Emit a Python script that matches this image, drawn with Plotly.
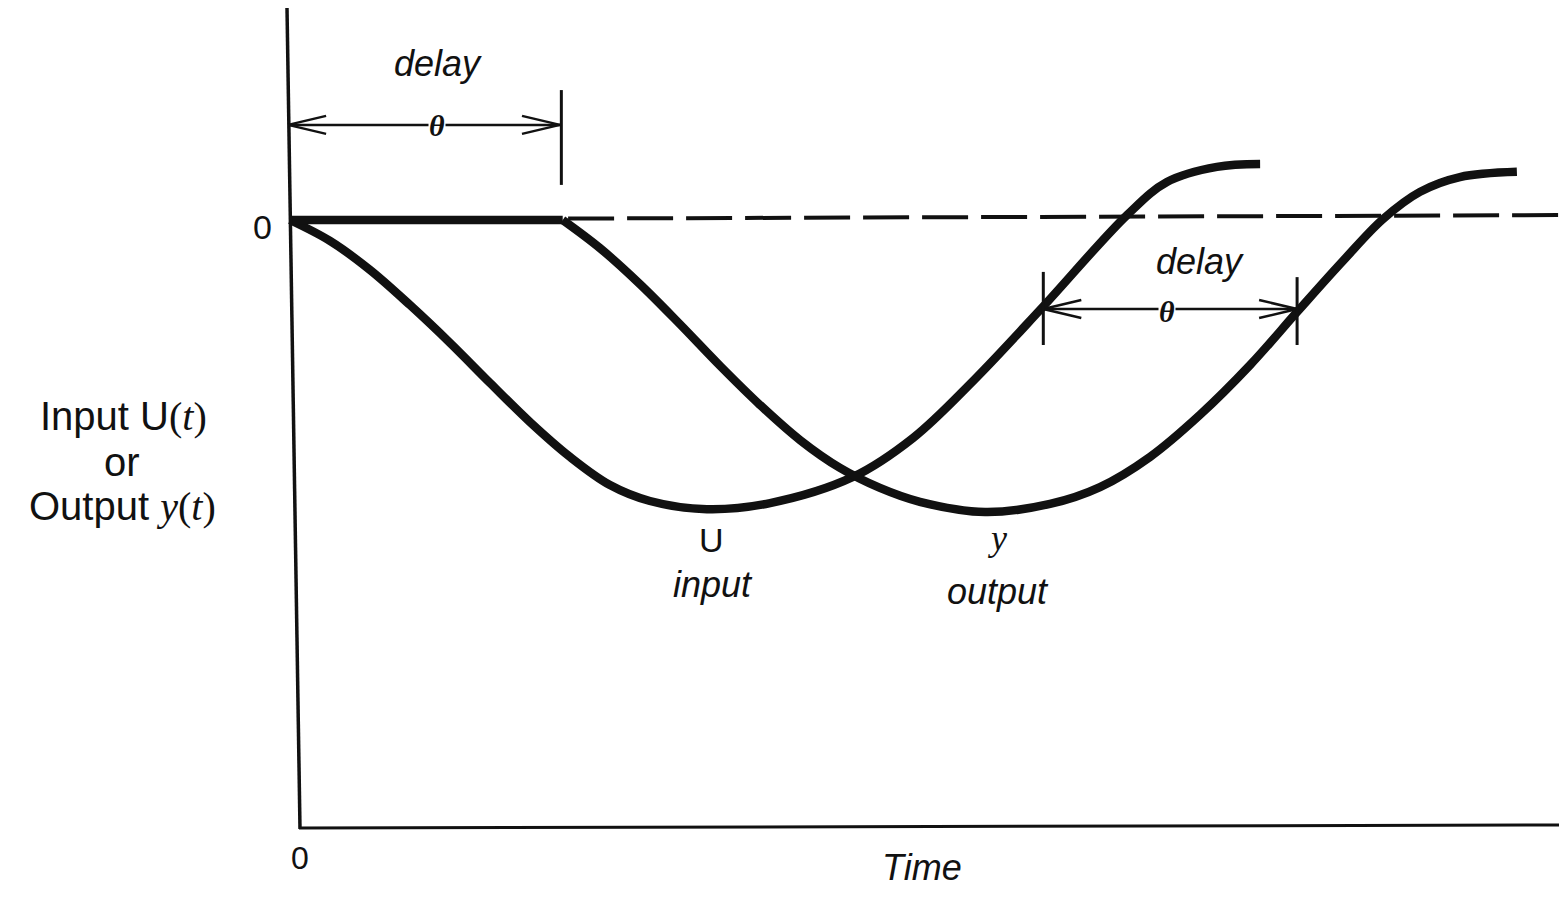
import plotly.graph_objects as go

# ---------------- data ----------------
# time in units of the dead time theta, value relative to the input's lowest point (-1)
u_time = [0.000, 0.148, 0.296, 0.444, 0.593, 0.741, 0.889, 1.037, 1.185, 1.333, 1.544,
          1.778, 2.085, 2.307, 2.530, 2.785, 3.100, 3.248, 3.433, 3.593]
u_value = [0.000, -0.072, -0.172, -0.293, -0.424, -0.562, -0.697, -0.817, -0.914, -0.969, -0.997,
           -0.976, -0.886, -0.752, -0.555, -0.303, 0.017, 0.131, 0.183, 0.193]

y_time = [0.000, 1.010, 1.148, 1.296, 1.444, 1.593, 1.741, 1.889, 2.037, 2.185, 2.333, 2.574,
          2.815, 3.000, 3.185, 3.370, 3.556, 3.730, 3.900, 4.048, 4.185, 4.333, 4.544]
y_value = [0.000, 0.000, -0.097, -0.221, -0.359, -0.503, -0.638, -0.759, -0.855, -0.924, -0.972, -1.007,
           -0.979, -0.921, -0.817, -0.672, -0.500, -0.317, -0.141, 0.003, 0.097, 0.148, 0.166]

theta = 1.0                            # delay shown at the start
delay2_start, delay2_end = 2.79, 3.73  # delay shown between the rising parts

# ---------------- layout constants ----------------
W, H = 1559, 898
X0_PX, PX_PER_T = 290, 270        # pixel of t=0, pixels per time unit
Y0_PX, PX_PER_V = 220, 290        # pixel of value 0, pixels per value unit

def px(x):
    return x / W

def py(y):
    return 1 - y / H

INK = "#111111"
SANS = "Liberation Sans, Arial, sans-serif"
SERIF = "Liberation Serif, Times New Roman, serif"
CURVE_W = 8.5
SMOOTH = 1.0

fig = go.Figure()

# input u(t)
fig.add_trace(go.Scatter(x=u_time, y=u_value, mode="lines",
                         line=dict(color=INK, width=CURVE_W, shape="spline", smoothing=SMOOTH),
                         hoverinfo="skip", showlegend=False))
# output y(t): flat during the delay, then the delayed response
fig.add_trace(go.Scatter(x=y_time[:2], y=y_value[:2], mode="lines",
                         line=dict(color=INK, width=CURVE_W),
                         hoverinfo="skip", showlegend=False))
fig.add_trace(go.Scatter(x=y_time[1:], y=y_value[1:], mode="lines",
                         line=dict(color=INK, width=CURVE_W, shape="spline", smoothing=SMOOTH),
                         hoverinfo="skip", showlegend=False))

shapes = []
# axes (as drawn in the scan)
shapes.append(dict(type="line", xref="paper", yref="paper",
                   x0=px(287), y0=py(8), x1=px(300), y1=py(829),
                   line=dict(color=INK, width=3.5)))
shapes.append(dict(type="line", xref="paper", yref="paper",
                   x0=px(299), y0=py(828), x1=px(1559), y1=py(825),
                   line=dict(color=INK, width=3)))
# dashed zero level after the delay
shapes.append(dict(type="line", xref="x", yref="y",
                   x0=1.03, y0=0.005, x1=4.75, y1=0.017,
                   line=dict(color=INK, width=4, dash="46px,13px")))

ARM_T = 38 / PX_PER_T
ARM_V = 9 / PX_PER_V

def delay_marker(t0, t1, v, ticks):
    out = [dict(type="line", xref="x", yref="y", x0=t0, y0=v, x1=t1, y1=v,
                line=dict(color=INK, width=2.5))]
    for s in (1, -1):
        out.append(dict(type="line", xref="x", yref="y", x0=t0, y0=v,
                        x1=t0 + ARM_T, y1=v + s * ARM_V, line=dict(color=INK, width=2.5)))
        out.append(dict(type="line", xref="x", yref="y", x0=t1, y0=v,
                        x1=t1 - ARM_T, y1=v + s * ARM_V, line=dict(color=INK, width=2.5)))
    for (tt, va, vb) in ticks:
        out.append(dict(type="line", xref="x", yref="y", x0=tt, y0=va, x1=tt, y1=vb,
                        line=dict(color=INK, width=3)))
    return out

shapes += delay_marker(-0.007, theta, 0.328, [(theta + 0.005, 0.448, 0.121)])
shapes += delay_marker(delay2_start, delay2_end, -0.307,
                       [(delay2_start, -0.179, -0.431), (delay2_end, -0.197, -0.431)])

annotations = []

def label(text, x, y, size, family=SANS, bg=None):
    d = dict(text=text, xref="paper", yref="paper", x=px(x), y=py(y),
             xanchor="center", yanchor="middle", showarrow=False,
             font=dict(family=family, size=size, color=INK))
    if bg:
        d["bgcolor"] = bg
        d["borderpad"] = 0
    annotations.append(d)

label("<i>delay</i>", 438, 64, 36)
label("<b><i>θ</i></b>", 437, 126, 30, SERIF, bg="white")
label("<i>delay</i>", 1200, 262, 36)
label("<b><i>θ</i></b>", 1167, 311, 30, SERIF, bg="white")
label("0", 262, 227, 34)
label("0", 300, 858, 32)
label("Input U<span style='font-family:Liberation Serif'>(<i>t</i>)</span>", 123, 417, 40)
label("or", 122, 462, 40)
label("Output <span style='font-family:Liberation Serif'><i>y</i>(<i>t</i>)</span>", 122, 507, 40)
label("U", 711, 540, 34)
label("<i>input</i>", 713, 584, 36)
label("<i>y</i>", 997, 538, 36, SERIF)
label("<i>output</i>", 998, 591, 36)
label("<i>Time</i>", 922, 867, 36)

fig.update_layout(
    width=W, height=H, autosize=False,
    margin=dict(l=0, r=0, t=0, b=0),
    paper_bgcolor="white", plot_bgcolor="white",
    xaxis=dict(visible=False, range=[-X0_PX / PX_PER_T, (W - X0_PX) / PX_PER_T], fixedrange=True),
    yaxis=dict(visible=False, range=[(Y0_PX - H) / PX_PER_V, Y0_PX / PX_PER_V], fixedrange=True),
    shapes=shapes, annotations=annotations,
    showlegend=False,
)

fig.write_html("out.html", config={"displayModeBar": False},
               post_script="document.body.style.margin='0';document.body.style.overflow='hidden';")
